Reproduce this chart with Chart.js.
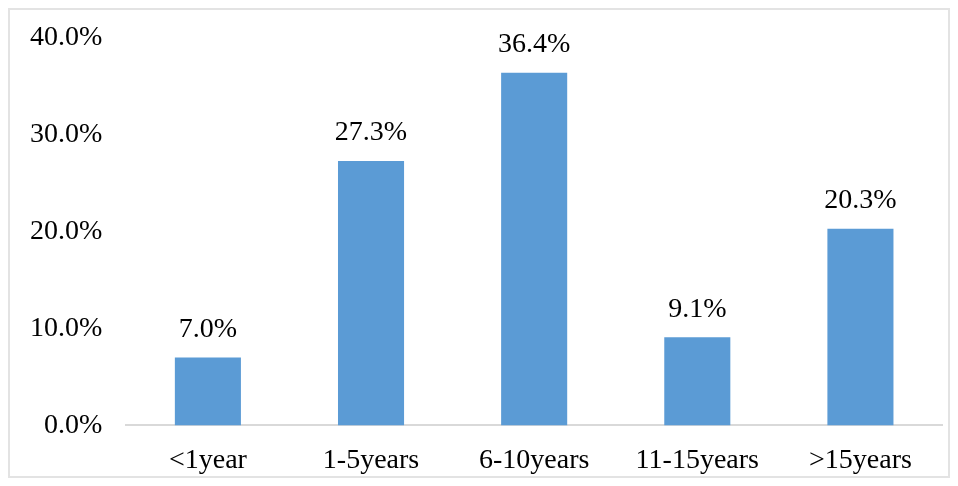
<!DOCTYPE html>
<html>
<head>
<meta charset="utf-8">
<script src="https://cdn.jsdelivr.net/npm/chart.js@4/dist/chart.umd.min.js"></script>
<style>
  html, body { margin: 0; padding: 0; background: #fff; }
  #wrap { position: relative; width: 958px; height: 486px; }
  #frame { position: absolute; left: 8px; top: 8px; width: 938px; height: 466px;
           border: 2px solid #e3e3e3; pointer-events: none; }
</style>
</head>
<body>
<div id="wrap">
  <canvas id="grafico" width="958" height="486"></canvas>
  <div id="frame"></div>
</div>
<script>
var categorias = ['<1year', '1-5years', '6-10years', '11-15years', '>15years'];
var percentuais = [7.0, 27.3, 36.4, 9.1, 20.3];
var ticksY = [0, 10, 20, 30, 40];

var fonte = { family: "'Liberation Serif', 'Times New Roman', serif", size: 28 };
var fonteY = { family: fonte.family, size: 28, lineHeight: 1.0 };

// rotulos em cima das barras
var rotulosBarras = {
    id: 'rotulosBarras',
    afterDatasetsDraw: function(chart) {
        var ctx = chart.ctx;
        var meta = chart.getDatasetMeta(0);
        ctx.save();
        ctx.font = fonte.size + 'px ' + fonte.family;
        ctx.fillStyle = '#000';
        ctx.textAlign = 'center';
        ctx.textBaseline = 'bottom';
        meta.data.forEach(function(barra, i) {
            ctx.fillText(percentuais[i].toFixed(1) + '%', barra.x, barra.y - 14);
        });
        ctx.restore();
    }
};

var grafico = new Chart(document.getElementById('grafico').getContext('2d'), {
    type: 'bar',
    data: {
        labels: categorias,
        datasets: [{
            data: percentuais,
            backgroundColor: '#5B9BD5',
            categoryPercentage: 1.0,
            barPercentage: 0.405
        }]
    },
    options: {
        responsive: false,
        animation: false,
        layout: { padding: { left: 6, right: 16, top: 10, bottom: -9 } },
        plugins: { legend: { display: false }, tooltip: { enabled: false } },
        scales: {
            x: {
                grid: { display: false, drawTicks: false },
                border: { display: true, color: '#d9d9d9', width: 2 },
                ticks: { color: '#000', font: fonte, padding: 18 }
            },
            y: {
                min: 0,
                max: 40,
                afterBuildTicks: function(axis) {
                    axis.ticks = ticksY.map(function(v) { return { value: v }; });
                },
                grid: { display: false, drawTicks: false },
                border: { display: false },
                ticks: {
                    color: '#000',
                    font: fonteY,
                    padding: 24,
                    callback: function(v) { return v.toFixed(1) + '%'; }
                }
            }
        }
    },
    plugins: [rotulosBarras]
});
</script>
</body>
</html>
